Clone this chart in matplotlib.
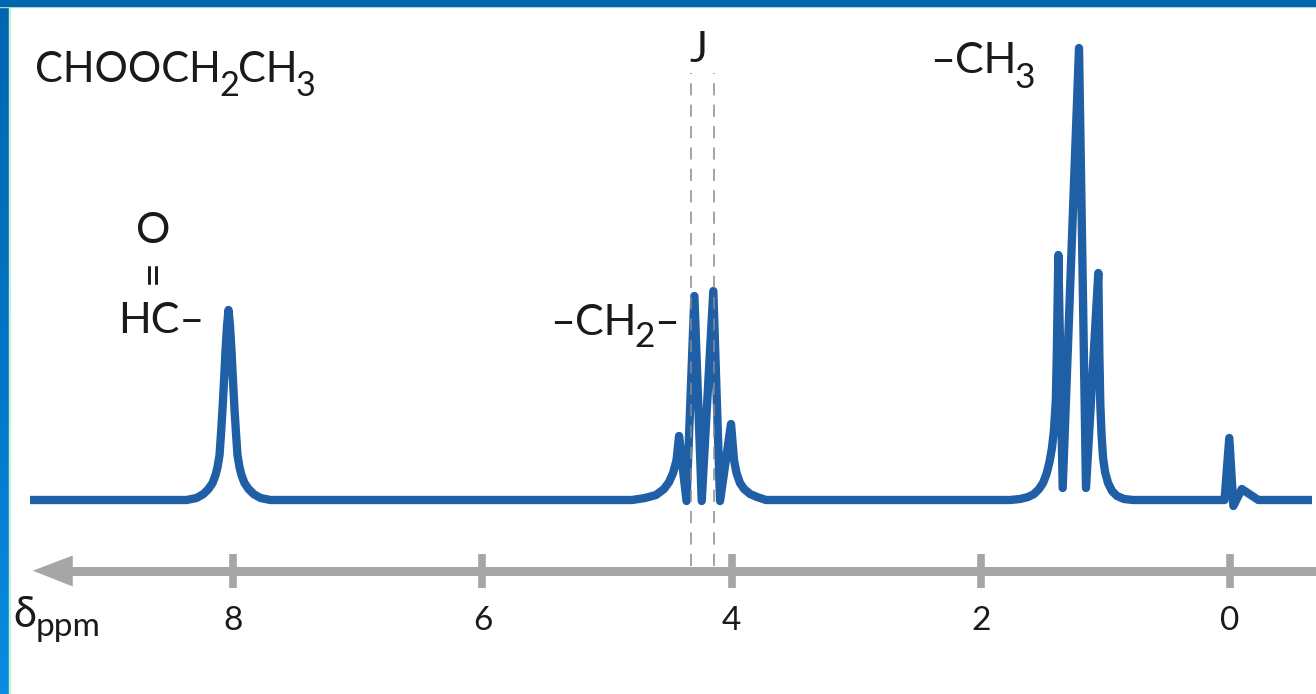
import matplotlib
matplotlib.use('Agg')
import matplotlib.pyplot as plt
import numpy as np
from matplotlib.patches import Rectangle
from matplotlib.colors import LinearSegmentedColormap

plt.rcParams['font.family'] = ['Lato', 'DejaVu Sans']

# 1H NMR trace of ethyl formate: shift (ppm) / intensity (a.u.)
start_ppm = [9.631]
start_int = [0]

hc_ppm = [8.375, 8.295, 8.239, 8.199, 8.166, 8.142, 8.126, 8.110, 8.098, 8.086,
          8.074, 8.062, 8.050, 8.038, 8.026, 8.014, 8.002, 7.990, 7.978, 7.966,
          7.950, 7.934, 7.910, 7.877, 7.837, 7.781, 7.701]
hc_int = [0, 2, 6, 11, 17, 25, 33, 45, 67, 91,
          119, 149, 174, 190, 174, 149, 119, 91, 67, 45,
          33, 25, 17, 11, 6, 2, 0]

ch2_ppm = [4.799, 4.695, 4.607, 4.543, 4.502, 4.470, 4.442, 4.422, 4.362, 4.299,
           4.240, 4.147, 4.093, 4.005, 3.993, 3.981, 3.961, 3.933, 3.900, 3.852,
           3.796, 3.724]
ch2_int = [0, 2, 5, 11, 18, 27, 40, 64, -1, 204,
           -1, 209, -1, 76, 58, 40, 27, 17, 11, 6,
           3, 0]

ch3_ppm = [1.766, 1.685, 1.621, 1.573, 1.533, 1.501, 1.473, 1.449, 1.429, 1.413,
           1.398, 1.390, 1.378, 1.343, 1.212, 1.156, 1.057, 1.049, 1.041, 1.031,
           1.019, 1.003, 0.979, 0.947, 0.907, 0.851, 0.778]
ch3_int = [0, 1, 3, 6, 11, 17, 26, 38, 52, 70,
           100, 147, 245, 12, 452, 12, 227, 147, 95, 65,
           42, 28, 17, 9, 4, 1, 0]

tms_ppm = [0.044, 0.006, -0.027, -0.094, -0.227]
tms_int = [0, 62, -6, 11, 0]

end_ppm = [-0.658]
end_int = [0]

# coupling constant markers (dashed) and the shift axis
j_ppm = [4.326, 4.145]
tick_ppm = [8, 6, 4, 2, 0]

blue = '#1f5fa5'
gray = '#a6a6a6'
txt = '#1a1a1a'

W, H = 1316, 694
fig = plt.figure(figsize=(W / 100, H / 100), dpi=100)
ax = fig.add_axes([0, 0, 1, 1])
ax.set_xlim(9.872, -0.690)
ax.set_ylim(-194, 500)
ax.axis('off')

ppm = np.concatenate([start_ppm, hc_ppm, ch2_ppm, ch3_ppm, tms_ppm, end_ppm])
inten = np.concatenate([start_int, hc_int, ch2_int, ch3_int, tms_int, end_int])
ax.plot(ppm, inten, color=blue, lw=6, solid_joinstyle='round',
        solid_capstyle='butt', zorder=2)

# J lines on top of the trace
ax.vlines(j_ppm, -66, 427, colors='#8c8c8c', lw=1.1,
          linestyles=[(0, (8, 6))], zorder=3)

# shift axis (arrow pointing to higher ppm)
ax.plot([9.30, -0.69], [-70.7, -70.7], color=gray, lw=6.5,
        solid_capstyle='butt', zorder=1)
ax.fill([9.609, 9.288, 9.288], [-70.7, -55.5, -86.5], color=gray, lw=0, zorder=1)
ax.vlines(tick_ppm, -88, -54, colors=gray, lw=5.5, zorder=1)
for v in tick_ppm:
    ax.text(v, -130, str(v), ha='center', va='baseline', fontsize=24, color=txt)


def fxy(x, y):
    # reference pixel position -> figure fraction
    return x / W, 1 - y / H


renderer = fig.canvas.get_renderer()


def chem(x, y, parts, size, sub_scale=0.82, drop=14, gap=-0.05):
    # lay out text pieces left to right, subscripts smaller and lowered
    for s, sub in parts:
        fs = size * sub_scale if sub else size
        t = fig.text(*fxy(x, y + (drop if sub else 0)), s, fontsize=fs,
                     va='baseline', ha='left', color=txt)
        x += t.get_window_extent(renderer).width + gap * size


chem(35, 82, [('CHOOCH', 0), ('2', 1), ('CH', 0), ('3', 1)], 30)
fig.text(*fxy(153, 243), 'O', ha='center', va='baseline', fontsize=31, color=txt)
fig.text(*fxy(152.5, 271), '=', rotation=90, ha='center', va='center',
         fontsize=31, color=txt)
fig.text(*fxy(118, 333), 'HC–', ha='left', va='baseline', fontsize=31, color=txt)
chem(550, 335, [('–CH', 0), ('2', 1), ('–', 0)], 31, drop=12)
fig.text(*fxy(699, 62), 'J', ha='center', va='baseline', fontsize=31, color=txt)
chem(930, 73, [('–CH', 0), ('3', 1)], 31, drop=15)
chem(13, 627, [('δ', 0), ('ppm', 1)], 30, sub_scale=0.8, drop=9, gap=0)

# slide frame: gradient bar on the left, dark bar on top
bar_ax = fig.add_axes([0, 0, 9 / W, 1])
cmap = LinearSegmentedColormap.from_list(
    'edge', [(0, '#0a8ce2'), (0.55, '#0072c2'), (1, '#0066b0')])
bar_ax.imshow(np.linspace(0, 1, 200)[:, None], aspect='auto', cmap=cmap,
              origin='lower', extent=[0, 1, 0, 1])
bar_ax.axis('off')
fig.patches.append(Rectangle((9 / W, 0), 1 / W, 1, transform=fig.transFigure,
                             color='#c8f2d6', zorder=5))
fig.patches.append(Rectangle((0, 1 - 7 / H), 1, 1 / H, transform=fig.transFigure,
                             color='#c8f2d6', zorder=5))
fig.patches.append(Rectangle((0, 1 - 6 / H), 1, 6 / H, transform=fig.transFigure,
                             color='#0066ae', zorder=6))

fig.savefig('out.png', dpi=100)
